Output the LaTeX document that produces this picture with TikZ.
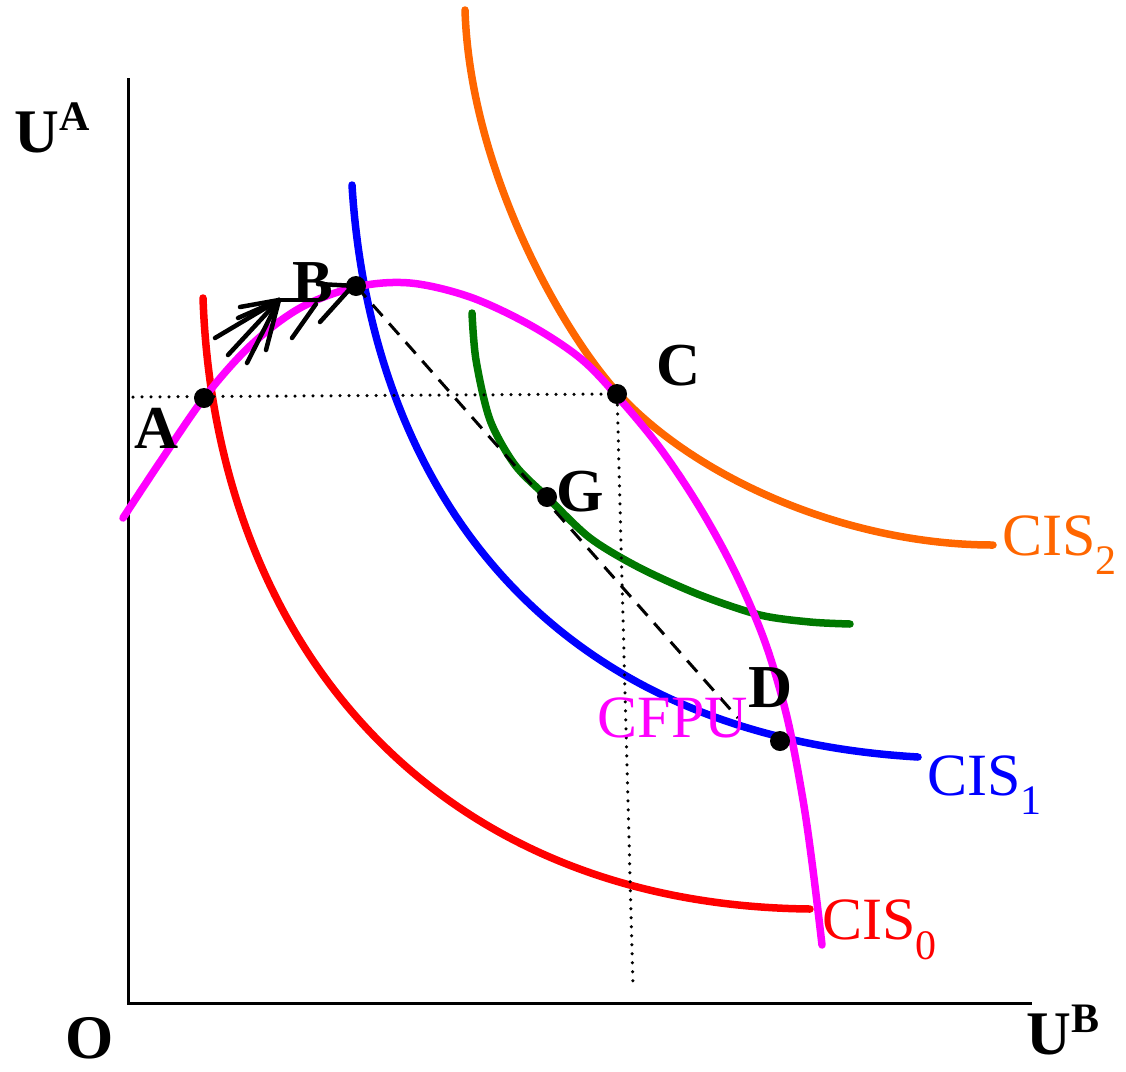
\documentclass[tikz,border=0pt]{standalone}
\usepackage{fontspec}
\setmainfont{Liberation Serif}
\definecolor{cfpu}{RGB}{255,0,255}
\definecolor{cisred}{RGB}{255,0,0}
\definecolor{cisblue}{RGB}{0,0,255}
\definecolor{cisorange}{RGB}{255,102,0}
\definecolor{cisgreen}{RGB}{0,120,0}
\tikzset{
  curve/.style={line width=7.5pt, line cap=round},
  axis/.style={line width=3pt},
  dotnode/.style={circle, fill=black, inner sep=0pt, minimum size=20pt},
  ptlabel/.style={font=\fontsize{61}{68}\selectfont\bfseries, inner sep=0pt},
  curvelabel/.style={font=\fontsize{60}{68}\selectfont, inner sep=0pt},
  axlabel/.style={font=\fontsize{62}{70}\selectfont\bfseries, inner sep=0pt},
  fanline/.style={line width=4.5pt, line cap=round},
}
\begin{document}
\begin{tikzpicture}[x=1pt,y=-1pt]
\useasboundingbox (0,0) rectangle (1126,1071);
% axes
\coordinate (ytop) at (128,78);
\coordinate (orig) at (128,1003);
\coordinate (xend) at (1032,1003);
\draw[axis] (ytop) -- (orig) -- (xend);
\node[axlabel] (UA) at (52,128) {U\raisebox{22pt}{\fontsize{42}{46}\selectfont A}};
\node[axlabel] (O) at (90,1038) {O};
\node[axlabel] (UB) at (1063,1030) {U\raisebox{22pt}{\fontsize{42}{46}\selectfont B}};
% guide end points
\coordinate (hdot) at (133,397);
\coordinate (vdot) at (633,988);
\coordinate (dashend) at (738,718);
% curves
\draw[curve, cisorange] (465,10) .. controls (470,170) and (562,331) .. (617,392)
   .. controls (697,480) and (850,545) .. (993,545);
\draw[curve, cisred] (203,298) .. controls (215,640) and (430,905) .. (810,909);
\draw[curve, cisblue] (352,185) .. controls (370,480) and (540,735) .. (918,757);
\draw[curve, cisgreen] plot[smooth, tension=0.5] coordinates {(472,313) (476,360) (490,420) (515,465) (547,497) (590,538) (640,568) (700,595) (760,615) (810,622) (850,624)};
\draw[curve, cfpu] plot[smooth, tension=0.55] coordinates {(123,518) (160,462) (204,398) (250,346) (300,308) (356,287) (410,283) (470,297) (530,325) (580,358) (617,396) (660,448) (700,508) (735,572) (765,642) (787,717) (803,800) (813,870) (822,945)};
% points
\node[dotnode] (A) at (204,398) {};
\node[dotnode] (B) at (356,286) {};
\node[dotnode] (C) at (617,394) {};
\node[dotnode] (G) at (547,497) {};
\node[dotnode] (D) at (780,741) {};
\draw[line width=3.5pt, dash pattern=on 0pt off 9pt, line cap=round] (hdot) -- (C.center) -- (vdot);
\draw[line width=3pt, dash pattern=on 15pt off 10pt] (B.center) -- (dashend);
% fan of arrow strokes from A towards B
\coordinate (fc) at (279,300);
\coordinate (f1) at (215,338);
\coordinate (f2) at (228,355);
\coordinate (f3) at (247,363);
\coordinate (f4) at (266,350);
\coordinate (f5) at (238,318);
\coordinate (f6) at (240,307);
\coordinate (f7) at (318,300);
\coordinate (g1s) at (292,338);
\coordinate (g1e) at (316,304);
\coordinate (g2s) at (320,322);
\coordinate (g2e) at (348,291);
\coordinate (g3s) at (318,284);
\foreach \p in {f1,f2,f3,f4,f5,f6,f7} \draw[fanline] (fc) -- (\p);
\draw[fanline] (g1s) -- (g1e);
\draw[fanline] (g2s) -- (g2e);
\draw[fanline] (g3s) -- (B.center);
% labels
\node[ptlabel] (lA) at (157,428) {A};
\node[ptlabel] (lB) at (313,283) {B};
\node[ptlabel] (lC) at (679,366) {C};
\node[ptlabel] (lG) at (580,492) {G};
\node[ptlabel] (lD) at (771,688) {D};
\node[curvelabel, text=cfpu] (lCFPU) at (673,718) {CFPU};
\node[curvelabel, text=cisorange] (l2) at (1060,545) {CIS\textsubscript{2}};
\node[curvelabel, text=cisblue] (l1) at (985,785) {CIS\textsubscript{1}};
\node[curvelabel, text=cisred] (l0) at (880,930) {CIS\textsubscript{0}};
\end{tikzpicture}
\end{document}
